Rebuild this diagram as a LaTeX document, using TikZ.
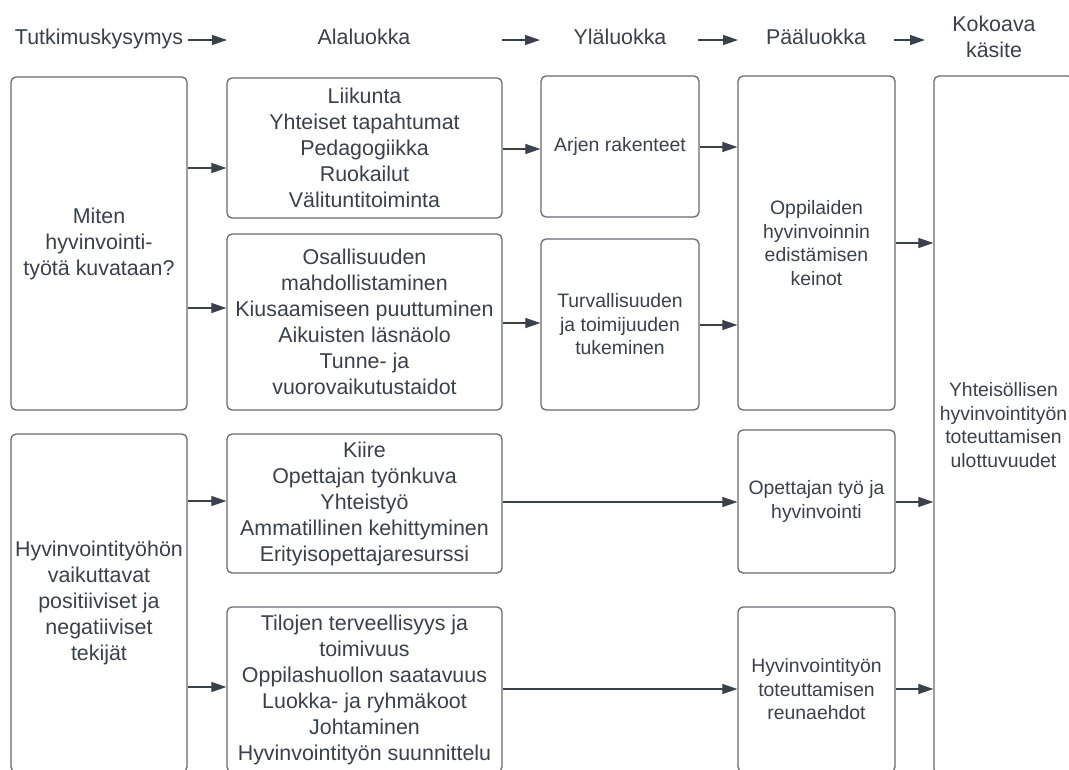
\documentclass[tikz,border=0pt]{standalone}
\usepackage{fontspec}
\setmainfont{Liberation Sans}
\usetikzlibrary{arrows.meta}
\definecolor{txt}{HTML}{3A414A}
\definecolor{brd}{HTML}{676A6F}
\definecolor{arc}{HTML}{3A414A}
\begin{document}
\begin{tikzpicture}[x=1pt,y=-1pt,
 box/.style={draw=brd, line width=1.3pt, rounded corners=5pt, align=center, text=txt, inner sep=0pt},
 lg/.style={font=\fontsize{21.4}{26}\selectfont},
 sm/.style={font=\fontsize{19.4}{23.5}\selectfont},
 hdr/.style={font=\fontsize{21.4}{25.5}\selectfont, text=txt, inner sep=0pt, align=center},
 arr/.style={draw=arc, line width=1.2pt, -{Triangle[length=15pt,width=10pt]}},
]
\path[use as bounding box, fill=white] (0,0) rectangle (1069,769);
\begin{scope}
\clip (0,0) rectangle (1069,769);
% headers
\node[hdr, anchor=base] (h1) at (99,44.5) {Tutkimuskysymys};
\node[hdr, anchor=base] (h2) at (364,44.5) {Alaluokka};
\node[hdr, anchor=base] (h3) at (620,44.5) {Yläluokka};
\node[hdr, anchor=base] (h4) at (816,44.5) {Pääluokka};
\node[hdr] (h5) at (994,37) {Kokoava\\käsite};
\coordinate (a1s) at (188,40); \coordinate (a1e) at (227,40);
\coordinate (a2s) at (502,40); \coordinate (a2e) at (540,40);
\coordinate (a3s) at (698,40); \coordinate (a3e) at (738,40);
\coordinate (a4s) at (894,40); \coordinate (a4e) at (925,40);
\draw[arr] (a1s) -- (a1e);
\draw[arr] (a2s) -- (a2e);
\draw[arr] (a3s) -- (a3e);
\draw[arr] (a4s) -- (a4e);
% column 1
\node[box, lg, minimum width=176pt, minimum height=333pt] (A) at (99,243.5) {Miten\\hyvinvointi-\\työtä kuvataan?};
\node[box, lg, minimum width=176pt, minimum height=338pt] (B) at (99,603) {Hyvinvointityöhön\\vaikuttavat\\positiiviset ja\\negatiiviset\\tekijät};
% column 2
\node[box, lg, minimum width=275pt, minimum height=140pt] (C) at (364.5,148) {Liikunta\\Yhteiset tapahtumat\\Pedagogiikka\\Ruokailut\\Välituntitoiminta};
\node[box, lg, minimum width=275pt, minimum height=176pt] (D) at (364.5,322) {Osallisuuden\\mahdollistaminen\\Kiusaamiseen puuttuminen\\Aikuisten läsnäolo\\Tunne- ja\\vuorovaikutustaidot};
\node[box, lg, minimum width=275pt, minimum height=139pt] (E) at (364.5,503.5) {Kiire\\Opettajan työnkuva\\Yhteistyö\\Ammatillinen kehittyminen\\Erityisopettajaresurssi};
\node[box, lg, minimum width=275pt, minimum height=165pt] (F) at (364.5,689.5) {Tilojen terveellisyys ja\\toimivuus\\Oppilashuollon saatavuus\\Luokka- ja ryhmäkoot\\Johtaminen\\Hyvinvointityön suunnittelu};
% column 3
\node[box, sm, minimum width=158pt, minimum height=141pt] (Y1) at (620,146.5) {Arjen rakenteet};
\node[box, sm, minimum width=158pt, minimum height=171pt] (Y2) at (620,324.5) {Turvallisuuden\\ja toimijuuden\\tukeminen};
% column 4
\node[box, sm, minimum width=157pt, minimum height=334pt] (P1) at (816.5,243) {Oppilaiden\\hyvinvoinnin\\edistämisen\\keinot};
\node[box, sm, minimum width=157pt, minimum height=143pt] (P3) at (816.5,501.5) {Opettajan työ ja\\hyvinvointi};
\node[box, sm, minimum width=157pt, minimum height=165pt] (P4) at (816.5,689.5) {Hyvinvointityön\\toteuttamisen\\reunaehdot};
% column 5
\node[box, sm, minimum width=139pt, minimum height=698pt] (R) at (1003.5,425) {Yhteisöllisen\\hyvinvointityön\\toteuttamisen\\ulottuvuudet};
% connectors
\draw[arr] (A.east |- 0,168) -- (C.west |- 0,168);
\draw[arr] (A.east |- 0,308) -- (D.west |- 0,308);
\draw[arr] (B.east |- 0,501) -- (E.west |- 0,501);
\draw[arr] (B.east |- 0,687) -- (F.west |- 0,687);
\draw[arr] (C.east |- 0,149) -- (Y1.west |- 0,149);
\draw[arr] (D.east |- 0,323) -- (Y2.west |- 0,323);
\draw[arr] (Y1.east |- 0,147) -- (P1.west |- 0,147);
\draw[arr] (Y2.east |- 0,325) -- (P1.west |- 0,325);
\draw[arr] (E.east |- 0,502) -- (P3.west |- 0,502);
\draw[arr] (F.east |- 0,689) -- (P4.west |- 0,689);
\draw[arr] (P1.east |- 0,243) -- (R.west |- 0,243);
\draw[arr] (P3.east |- 0,502) -- (R.west |- 0,502);
\draw[arr] (P4.east |- 0,689) -- (R.west |- 0,689);
\end{scope}
\end{tikzpicture}
\end{document}
